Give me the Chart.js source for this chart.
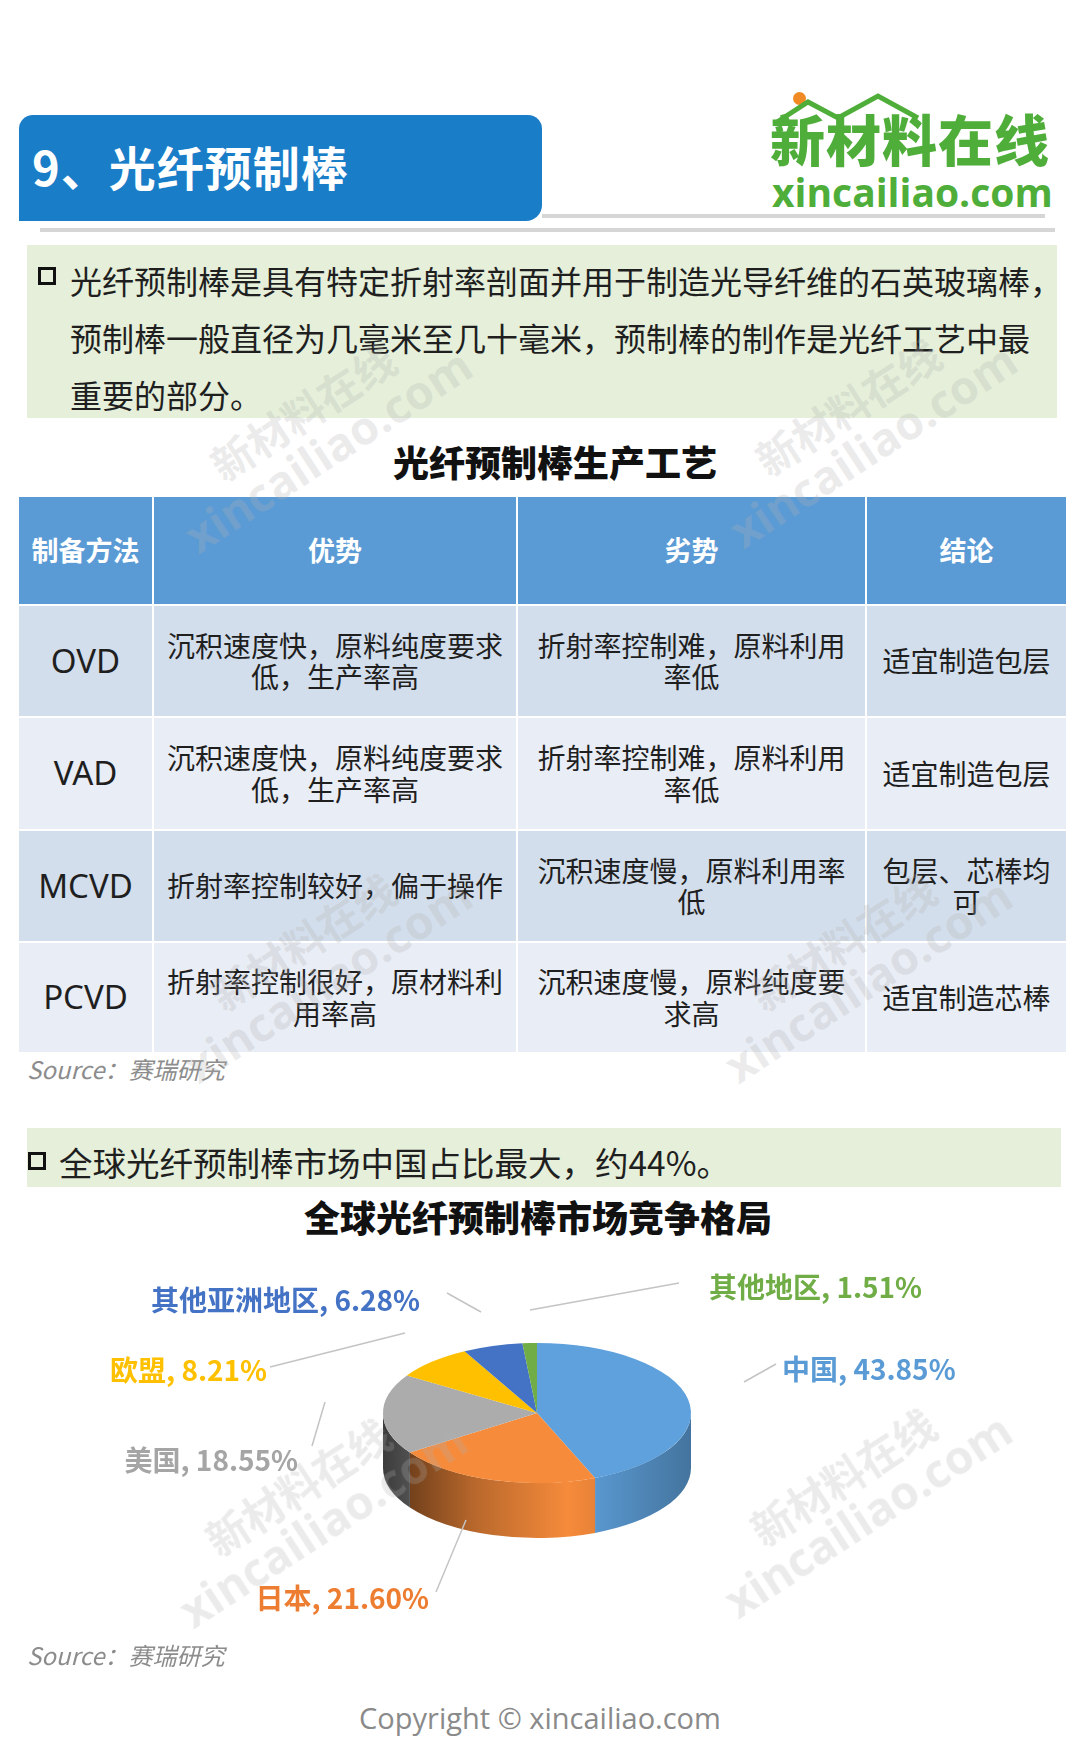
<!DOCTYPE html>
<html>
<head>
<meta charset="utf-8">
<script src="https://cdn.jsdelivr.net/npm/chart.js@4.4.1/dist/chart.umd.min.js"></script>
<style>
  body { margin: 0; background: #fff; font-family: "Noto Sans CJK SC", "Noto Sans", sans-serif; }
  #page { position: relative; width: 1080px; height: 1757px; overflow: hidden; background: #fff; }
  .abs { position: absolute; }
  #bar { left: 19px; top: 115px; width: 523px; height: 106px; background: #1a7dc8;
         border-radius: 14px 14px 16px 0; }
  #bar span { position: absolute; left: 13px; top: 50%; transform: translateY(-54%);
              color: #fff; font-weight: bold; font-size: 47px; letter-spacing: 1px; }
  #logo1 { left: 770px; top: 110px; color: #4fae3a; font-weight: 900; font-size: 55px; letter-spacing: 1px; line-height: 1; }
  #logo2 { left: 772px; top: 172px; color: #4fae3a; font-family: "Open Sans", sans-serif; font-weight: 700; font-size: 39px; line-height: 1; }
  #dot { left: 793px; top: 92px; width: 13px; height: 13px; border-radius: 50%; background: #f08a24; }
  .rule { height: 4px; background: #d6d6d6; }
  .note { background: #e5efda; }
  .note p { margin: 0; color: #1f1f1f; white-space: nowrap; }
  .box { display: inline-block; width: 18px; height: 18px; border: 3px solid #111; box-sizing: border-box; }
  h2 { margin: 0; font-size: 36px; font-weight: 900; color: #111; text-align: center; }
  table { border-collapse: collapse; table-layout: fixed; }
  td, th { border: 2px solid #fff; text-align: center; vertical-align: middle; color: #1f1f1f;
           font-size: 28px; line-height: 1.12; padding: 0 12px; font-weight: normal; }
  th { background: #5b9bd5; color: #fff; font-weight: bold; font-size: 27px; padding: 0 6px; }
  tr.odd td { background: #d3deec; }
  tr.even td { background: #e9edf5; }
  td.m { font-size: 33px; font-family: "Noto Sans", sans-serif; padding: 0; }
  td.c3 { padding: 0 14px; }
  td.c4 { padding: 0 10px; }
  .src { color: #8c8c8c; font-style: italic; font-size: 24px; }
  .wm { color: rgba(175,175,175,0.25); font-weight: bold; transform: rotate(-33deg); text-align: center;
        line-height: 1.05; white-space: nowrap; pointer-events: none; }
  .wm .a { font-size: 42px; }
  .wm .b { font-size: 46px; font-family: "Open Sans", sans-serif; }
</style>
</head>
<body>
<div id="page">
  <div id="bar" class="abs"><span>9、光纤预制棒</span></div>
  <div id="dot" class="abs"></div>
  <svg class="abs" style="left:768px;top:88px" width="290" height="40">
    <polyline points="6,36 40,14 70,30 110,8 150,30" fill="none" stroke="#4fae3a" stroke-width="5"/>
  </svg>
  <div id="logo1" class="abs">新材料在线</div>
  <div id="logo2" class="abs">xincailiao.com</div>
  <div class="abs rule" style="left:542px;top:214px;width:503px;"></div>
  <div class="abs rule" style="left:40px;top:228px;width:1015px;"></div>

  <div class="abs note" style="left:27px;top:245px;width:1030px;height:173px;">
    <span class="box abs" style="left:11px;top:22px;"></span>
    <p class="abs" style="left:43px;top:7px;line-height:57px;font-size:32px;">光纤预制棒是具有特定折射率剖面并用于制造光导纤维的石英玻璃棒，<br>预制棒一般直径为几毫米至几十毫米，预制棒的制作是光纤工艺中最<br>重要的部分。</p>
  </div>

  <h2 class="abs" style="left:0;width:1110px;top:435px;">光纤预制棒生产工艺</h2>

  <table class="abs" style="left:17px;top:495px;width:1049px;">
    <colgroup><col style="width:135px"><col style="width:364px"><col style="width:349px"><col style="width:201px"></colgroup>
    <tr style="height:109px"><th>制备方法</th><th>优势</th><th>劣势</th><th>结论</th></tr>
    <tr class="odd" style="height:112px"><td class="m">OVD</td><td>沉积速度快，原料纯度要求低，生产率高</td><td class="c3">折射率控制难，原料利用率低</td><td class="c4">适宜制造包层</td></tr>
    <tr class="even" style="height:113px"><td class="m">VAD</td><td>沉积速度快，原料纯度要求低，生产率高</td><td class="c3">折射率控制难，原料利用率低</td><td class="c4">适宜制造包层</td></tr>
    <tr class="odd" style="height:112px"><td class="m">MCVD</td><td>折射率控制较好，偏于操作</td><td class="c3">沉积速度慢，原料利用率低</td><td class="c4">包层、芯棒均可</td></tr>
    <tr class="even" style="height:111px"><td class="m">PCVD</td><td>折射率控制很好，原材料利用率高</td><td class="c3">沉积速度慢，原料纯度要求高</td><td class="c4">适宜制造芯棒</td></tr>
  </table>
  <div class="abs src" style="left:27px;top:1051px;">Source：赛瑞研究</div>

  <div class="abs note" style="left:27px;top:1128px;width:1034px;height:59px;">
    <span class="box abs" style="left:1px;top:24px;"></span>
    <p class="abs" style="left:32px;top:11px;line-height:46px;font-size:33.5px;">全球光纤预制棒市场中国占比最大，约44%。</p>
  </div>

  <h2 class="abs" style="left:0;width:1076px;top:1190px;">全球光纤预制棒市场竞争格局</h2>

  <canvas id="pie" class="abs" style="left:0;top:1240px;" width="1080" height="400"></canvas>

  <div class="abs src" style="left:27px;top:1637px;">Source：赛瑞研究</div>
  <div class="abs" style="left:0;width:1080px;top:1698px;text-align:center;color:#8a8a8a;font-size:29px;font-family:'Open Sans',sans-serif;">Copyright © xincailiao.com</div>

  <div class="abs wm" style="left:150px;top:385px;"><div class="a">新材料在线</div><div class="b">xincailiao.com</div></div>
  <div class="abs wm" style="left:695px;top:380px;"><div class="a">新材料在线</div><div class="b">xincailiao.com</div></div>
  <div class="abs wm" style="left:150px;top:915px;"><div class="a">新材料在线</div><div class="b">xincailiao.com</div></div>
  <div class="abs wm" style="left:690px;top:915px;"><div class="a">新材料在线</div><div class="b">xincailiao.com</div></div>
  <div class="abs wm" style="left:145px;top:1460px;"><div class="a">新材料在线</div><div class="b">xincailiao.com</div></div>
  <div class="abs wm" style="left:690px;top:1450px;"><div class="a">新材料在线</div><div class="b">xincailiao.com</div></div>
</div>

<script>
// 全球光纤预制棒市场竞争格局
const regions = ["中国", "日本", "美国", "欧盟", "其他亚洲地区", "其他地区"];
const shares = [43.85, 21.60, 18.55, 8.21, 6.28, 1.51];

const topColors = ["#5fa1dc", "#f68b3b", "#acacac", "#ffc000", "#4472c4", "#70ad47"];
const textColors = ["#5b9bd5", "#ed7d31", "#a5a5a5", "#ffc000", "#4472c4", "#70ad47"];

// label anchor + leader line, canvas pixels
const labelSpots = [
  { x: 782, y: 129, align: "left",  line: [744, 142, 776, 124] },
  { x: 429, y: 358, align: "right", line: [436, 352, 466, 280] },
  { x: 298, y: 220, align: "right", line: [312, 206, 325, 162] },
  { x: 267, y: 130, align: "right", line: [270, 127, 405, 93] },
  { x: 420, y: 60,  align: "right", line: [447, 53, 481, 72] },
  { x: 709, y: 47,  align: "left",  line: [679, 43, 530, 70] },
];

const squash = 0.455;
const depth = 55;

function shade(hex, f) {
  const n = parseInt(hex.slice(1), 16);
  const r = Math.round(((n >> 16) & 255) * f);
  const g = Math.round(((n >> 8) & 255) * f);
  const b = Math.round((n & 255) * f);
  return "rgb(" + r + "," + g + "," + b + ")";
}

const pie3d = {
  id: "pie3d",
  beforeDatasetsDraw(chart) {
    const ctx = chart.ctx;
    const arcs = chart.getDatasetMeta(0).data;
    const cx = arcs[0].x, cy = arcs[0].y, r = arcs[0].outerRadius;
    const ry = r * squash;
    // side wall, only the front half shows
    arcs.forEach((arc, i) => {
      const a = Math.max(arc.startAngle, 0);
      const b = Math.min(arc.endAngle, Math.PI);
      if (b <= a) return;
      const g = ctx.createLinearGradient(cx - r, 0, cx + r, 0);
      g.addColorStop(0, shade(topColors[i], 0.35));
      g.addColorStop(0.3, shade(topColors[i], 0.75));
      g.addColorStop(0.6, shade(topColors[i], 1.0));
      g.addColorStop(1, shade(topColors[i], 0.72));
      ctx.beginPath();
      ctx.ellipse(cx, cy, r, ry, 0, a, b);
      ctx.ellipse(cx, cy + depth, r, ry, 0, b, a, true);
      ctx.closePath();
      ctx.fillStyle = g;
      ctx.fill();
    });
    ctx.save();
    ctx.translate(cx, cy);
    ctx.scale(1, squash);
    ctx.translate(-cx, -cy);
  },
  afterDatasetsDraw(chart) {
    const ctx = chart.ctx;
    ctx.restore();
    ctx.save();
    ctx.font = 'bold 28px "Noto Sans CJK SC"';
    ctx.textBaseline = "middle";
    labelSpots.forEach((s, i) => {
      ctx.strokeStyle = "#c4c4c4";
      ctx.lineWidth = 1.5;
      ctx.beginPath();
      ctx.moveTo(s.line[0], s.line[1]);
      ctx.lineTo(s.line[2], s.line[3]);
      ctx.stroke();
      ctx.fillStyle = textColors[i];
      ctx.textAlign = s.align;
      ctx.fillText(regions[i] + ", " + shares[i].toFixed(2) + "%", s.x, s.y);
    });
    ctx.restore();
  }
};

new Chart(document.getElementById("pie"), {
  type: "pie",
  data: {
    labels: regions,
    datasets: [
      {
        data: shares,
        backgroundColor: topColors,
        borderWidth: 0,
        clip: false,
      },
    ],
  },
  options: {
    responsive: false,
    animation: false,
    rotation: 0,
    layout: {
      padding: { left: 383, right: 389, top: 19, bottom: 73 },
    },
    plugins: {
      legend: { display: false },
      tooltip: { enabled: false },
      title: { display: false },
    },
  },
  plugins: [pie3d],
});
</script>
</body>
</html>
